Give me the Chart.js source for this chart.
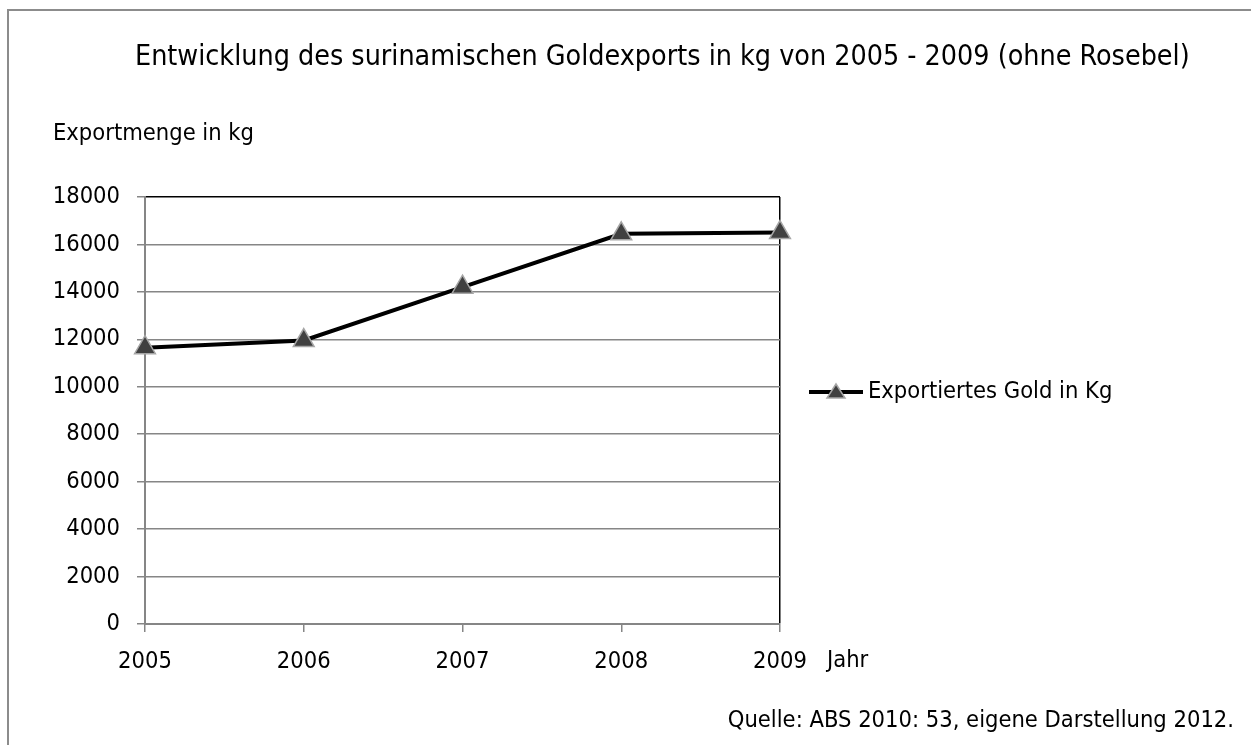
<!DOCTYPE html>
<html>
<head>
<meta charset="utf-8">
<script src="https://cdn.jsdelivr.net/npm/chart.js@4/dist/chart.umd.min.js"></script>
<style>
  html, body { margin: 0; padding: 0; background: #fff; }
  #box { position: relative; width: 1251px; height: 745px; }
</style>
</head>
<body>
<div id="box"><canvas id="grafico" width="1251" height="745"></canvas></div>
<script>
// datos
const jahre = ["2005", "2006", "2007", "2008", "2009"]
const goldKg = [11650, 11950, 14200, 16450, 16500]
const yTicks = [0, 2000, 4000, 6000, 8000, 10000, 12000, 14000, 16000, 18000]

const titel = "Entwicklung des surinamischen Goldexports in kg von 2005 - 2009 (ohne Rosebel)"
const yTitel = "Exportmenge in kg"
const xTitel = "Jahr"
const serieName = "Exportiertes Gold in Kg"
const quelle = "Quelle: ABS 2010: 53, eigene Darstellung 2012."

const fuente = '"DejaVu Sans Condensed", "Liberation Sans Narrow", sans-serif'
const gris = "#868686"

// textos sueltos, marco y leyenda (estilo Excel)
const extras = {
  id: "extras",
  beforeDraw(chart) {
    const ctx = chart.ctx
    ctx.save()
    ctx.strokeStyle = "#8c8c8c"
    ctx.lineWidth = 2
    ctx.beginPath()
    ctx.moveTo(8, 760)
    ctx.lineTo(8, 10)
    ctx.lineTo(1260, 10)
    ctx.stroke()
    ctx.restore()
  },
  afterDraw(chart) {
    const ctx = chart.ctx
    const {right} = chart.chartArea
    ctx.save()
    ctx.fillStyle = "#000"
    ctx.textBaseline = "middle"

    ctx.font = `28.4px ${fuente}`
    ctx.textAlign = "left"
    ctx.fillText(titel, 135, 58)

    ctx.font = `23.5px ${fuente}`
    ctx.fillText(yTitel, 53, 134)
    ctx.fillText(xTitel, right + 47, 661)

    ctx.textAlign = "right"
    ctx.fillText(quelle, 1234, 721)

    // leyenda: linea + triangulo + texto
    const ds = chart.data.datasets[0]
    const ly = 392
    ctx.strokeStyle = ds.borderColor
    ctx.lineWidth = 4
    ctx.beginPath()
    ctx.moveTo(809, ly)
    ctx.lineTo(863, ly)
    ctx.stroke()
    ctx.fillStyle = ds.pointBackgroundColor
    ctx.strokeStyle = ds.pointBorderColor
    ctx.lineWidth = 1.5
    ctx.beginPath()
    ctx.moveTo(836, ly - 8)
    ctx.lineTo(845, ly + 6)
    ctx.lineTo(827, ly + 6)
    ctx.closePath()
    ctx.fill()
    ctx.stroke()

    ctx.fillStyle = "#000"
    ctx.textAlign = "left"
    ctx.fillText(ds.label, 868, ly)
    ctx.restore()
  }
}

new Chart(document.getElementById("grafico"), {
  type: "line",
  data: {
    labels: jahre,
    datasets: [{
      label: serieName,
      data: goldKg,
      borderColor: "#000",
      borderWidth: 4,
      tension: 0,
      fill: false,
      pointStyle: "triangle",
      pointRadius: 12,
      pointHoverRadius: 12,
      pointBackgroundColor: "#404040",
      pointBorderColor: "#a6a6a6",
      pointBorderWidth: 1.5
    }]
  },
  options: {
    responsive: false,
    animation: false,
    layout: { padding: { left: 0, right: 471, top: 197, bottom: 61 } },
    plugins: {
      legend: { display: false },
      title: { display: false },
      tooltip: { enabled: false }
    },
    scales: {
      x: {
        type: "category",
        offset: false,
        afterFit: (s) => { s.height = 60 },
        border: { color: gris, width: 2 },
        grid: {
          drawOnChartArea: true,
          color: (c) => c.index === jahre.length - 1 ? "#000" : "rgba(0,0,0,0)",
          tickColor: gris,
          tickLength: 8,
          lineWidth: 1.5
        },
        ticks: {
          color: "#000",
          font: { family: fuente, size: 23.5 },
          padding: 16,
          maxRotation: 0
        }
      },
      y: {
        min: 0,
        max: 18000,
        afterFit: (s) => { s.width = 145 },
        afterBuildTicks: (s) => { s.ticks = yTicks.map(v => ({ value: v })) },
        border: { color: gris, width: 2 },
        grid: {
          color: (c) => c.tick && c.tick.value === 18000 ? "#000" : gris,
          tickColor: gris,
          tickLength: 8,
          lineWidth: 1.5
        },
        ticks: {
          color: "#000",
          font: { family: fuente, size: 23.5 },
          padding: 17,
          callback: (v) => String(v)
        }
      }
    }
  },
  plugins: [extras]
})
</script>
</body>
</html>
